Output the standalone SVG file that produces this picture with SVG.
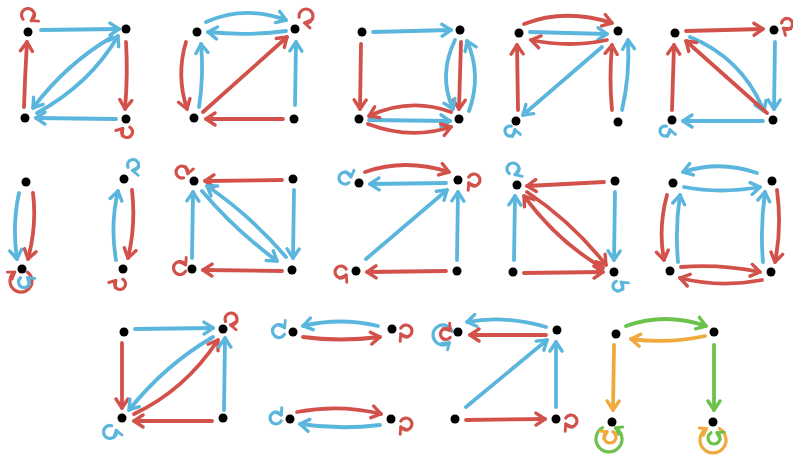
<svg xmlns="http://www.w3.org/2000/svg" width="793" height="457" viewBox="0 0 793 457">
<style>
.e{fill:none;stroke-width:3.8;stroke-linecap:round;stroke-linejoin:round}
.l{fill:none;stroke-width:3.2;stroke-linecap:round}
.r{stroke:#d2524b}.b{stroke:#5bb6dd}.g{stroke:#6cc24a}.o{stroke:#f0a93c}
.r.e{marker-end:url(#mr)}.b.e{marker-end:url(#mb)}.g.e{marker-end:url(#mg)}.o.e{marker-end:url(#mo)}
.r.l{marker-end:url(#sr)}.b.l{marker-end:url(#sb)}.g.l{marker-end:url(#sg)}.o.l{marker-end:url(#so)}
circle{fill:#000}
</style>
<defs>
<marker id="mr" viewBox="-11 -8 13 16" refX="0" refY="0" markerWidth="13" markerHeight="16" markerUnits="userSpaceOnUse" orient="auto"><path d="M-9,-6 L0,0 L-9,6" fill="none" stroke="#d2524b" stroke-width="3.4" stroke-linecap="round" stroke-linejoin="round"/></marker>
<marker id="mb" viewBox="-11 -8 13 16" refX="0" refY="0" markerWidth="13" markerHeight="16" markerUnits="userSpaceOnUse" orient="auto"><path d="M-9,-6 L0,0 L-9,6" fill="none" stroke="#5bb6dd" stroke-width="3.4" stroke-linecap="round" stroke-linejoin="round"/></marker>
<marker id="mg" viewBox="-11 -8 13 16" refX="0" refY="0" markerWidth="13" markerHeight="16" markerUnits="userSpaceOnUse" orient="auto"><path d="M-9,-6 L0,0 L-9,6" fill="none" stroke="#6cc24a" stroke-width="3.4" stroke-linecap="round" stroke-linejoin="round"/></marker>
<marker id="mo" viewBox="-11 -8 13 16" refX="0" refY="0" markerWidth="13" markerHeight="16" markerUnits="userSpaceOnUse" orient="auto"><path d="M-9,-6 L0,0 L-9,6" fill="none" stroke="#f0a93c" stroke-width="3.4" stroke-linecap="round" stroke-linejoin="round"/></marker>
<marker id="sr" viewBox="-8 -6 10 12" refX="0" refY="0" markerWidth="10" markerHeight="12" markerUnits="userSpaceOnUse" orient="auto"><path d="M-6,-4.2 L0,0 L-6,4.2" fill="none" stroke="#d2524b" stroke-width="2.9" stroke-linecap="round" stroke-linejoin="round"/></marker>
<marker id="sb" viewBox="-8 -6 10 12" refX="0" refY="0" markerWidth="10" markerHeight="12" markerUnits="userSpaceOnUse" orient="auto"><path d="M-6,-4.2 L0,0 L-6,4.2" fill="none" stroke="#5bb6dd" stroke-width="2.9" stroke-linecap="round" stroke-linejoin="round"/></marker>
<marker id="sg" viewBox="-8 -6 10 12" refX="0" refY="0" markerWidth="10" markerHeight="12" markerUnits="userSpaceOnUse" orient="auto"><path d="M-6,-4.2 L0,0 L-6,4.2" fill="none" stroke="#6cc24a" stroke-width="2.9" stroke-linecap="round" stroke-linejoin="round"/></marker>
<marker id="so" viewBox="-8 -6 10 12" refX="0" refY="0" markerWidth="10" markerHeight="12" markerUnits="userSpaceOnUse" orient="auto"><path d="M-6,-4.2 L0,0 L-6,4.2" fill="none" stroke="#f0a93c" stroke-width="2.9" stroke-linecap="round" stroke-linejoin="round"/></marker>
</defs>
<rect width="793" height="457" fill="#fff"/>
<g id="connectors">
<!-- G1 -->
<path class="e b" d="M41,30 L119,29"/>
<path class="e b" d="M112,37 Q66,64 33,108"/>
<path class="e b" d="M37,113 Q90,84 118,36"/>
<path class="e r" d="M126,42 Q128,75 125,109"/>
<path class="e b" d="M116,119 L36,118"/>
<path class="e r" d="M24,107 Q25,75 27,42"/>
<path class="l r" d="M23,19.2 A6.5,6.5 0 1 1 31.3,20.6"/>
<path class="l r" d="M129.8,127.2 A5.5,5.5 0 1 1 122.8,128.5"/>
<!-- G2 -->
<path class="e b" d="M206,22 Q245,5 286,20"/>
<path class="e b" d="M286,31 Q248,36 208,32"/>
<path class="e r" d="M186,42 Q176,75 187,109"/>
<path class="e b" d="M199,107 Q204,75 201,44"/>
<path class="e r" d="M203,112 L287,37"/>
<path class="e r" d="M283,119 L206,119"/>
<path class="e b" d="M295,105 L296,42"/>
<path class="l r" d="M299.1,17.2 A7,7 0 1 1 304.8,22.9"/>
<!-- G3 -->
<path class="e b" d="M373,32 L451,30"/>
<path class="e r" d="M361,44 L360,109"/>
<path class="e r" d="M461,42 L459,109"/>
<path class="e b" d="M455,40 Q438,75 453,109"/>
<path class="e b" d="M469,111 Q482,75 467,41"/>
<path class="e b" d="M369,120 L450,121"/>
<path class="e r" d="M451,112 Q410,97 369,116"/>
<path class="e r" d="M368,124 Q410,140 451,127"/>
<!-- G4 -->
<path class="e r" d="M524,24 Q565,8 612,23"/>
<path class="e b" d="M530,32 L607,34"/>
<path class="e r" d="M607,40 Q570,48 531,40"/>
<path class="e b" d="M602,47 L523,115"/>
<path class="e r" d="M518,110 L517,45"/>
<path class="e r" d="M612,110 Q609,78 612,45"/>
<path class="e b" d="M622,110 Q630,75 628,40"/>
<path class="l b" d="M511.3,126.2 A5,5 0 1 0 514.8,129.7"/>
<!-- G5 -->
<path class="e r" d="M686,31 L763,29"/>
<path class="e b" d="M775,42 L774,109"/>
<path class="e b" d="M690,37 Q742,58 764,111"/>
<path class="e r" d="M767,113 L686,41"/>
<path class="e b" d="M763,121 L683,121"/>
<path class="e r" d="M672,110 L674,45"/>
<path class="l r" d="M781.6,23 A5.5,5.5 0 1 1 783.5,28.2"/>
<path class="l b" d="M666.3,126.2 A5,5 0 1 0 669.8,129.7"/>
<!-- G6 -->
<path class="e b" d="M19,193 Q12,225 17,259"/>
<path class="e r" d="M33,193 Q37,225 28,259"/>
<path class="l r" d="M27.3,272.1 A11,11 0 1 1 14.7,272.1"/>
<path class="l b" d="M20.5,277.8 A5.5,5.5 0 1 0 27.5,277.8"/>
<!-- G7 -->
<path class="e b" d="M116,260 Q110,225 118,191"/>
<path class="e r" d="M132,190 Q136,225 128,258"/>
<path class="l b" d="M128,167.3 A5.5,5.5 0 1 1 132.5,170.5"/>
<path class="l r" d="M122.8,279.2 A5.5,5.5 0 1 1 115.8,280.5"/>
<!-- G8 -->
<path class="e r" d="M282,180 L205,181"/>
<path class="e b" d="M294,190 L293,258"/>
<path class="e b" d="M202,191 Q235,230 277,261"/>
<path class="e b" d="M286,257 Q250,215 207,186"/>
<path class="e b" d="M192,258 L193,192"/>
<path class="e r" d="M282,271 L203,270"/>
<path class="l r" d="M183.6,177.8 A6,6 0 1 1 187.8,173.6"/>
<path class="l r" d="M185.6,271.3 A6.5,6.5 0 1 1 185.6,264.8"/>
<!-- G9 -->
<path class="e r" d="M365,172 Q405,158 449,172"/>
<path class="e b" d="M446,183 L370,184"/>
<path class="e b" d="M366,259 L447,190"/>
<path class="e b" d="M457,260 L458,192"/>
<path class="e r" d="M446,271 L367,272"/>
<path class="l b" d="M348.9,182.6 A6,6 0 1 1 350.9,177"/>
<path class="l r" d="M468.8,177 A6,6 0 1 1 468.8,183"/>
<path class="l r" d="M346.2,269 A6,6 0 1 0 346.2,275"/>
<!-- G10 -->
<path class="e r" d="M604,182 L527,186"/>
<path class="e b" d="M615,192 L614,260"/>
<path class="e r" d="M527,192 Q572,222 606,265"/>
<path class="e r" d="M603,268 Q558,242 524,196"/>
<path class="e b" d="M514,260 L515,196"/>
<path class="e r" d="M524,273 L603,272"/>
<path class="l b" d="M509.1,173.6 A6,6 0 1 1 515.1,174.6"/>
<path class="l b" d="M616.3,281.3 A5,5 0 1 0 621.2,282.2"/>
<!-- G11 -->
<path class="e b" d="M757,173 Q720,160 683,172"/>
<path class="e b" d="M684,187 Q720,194 760,187"/>
<path class="e r" d="M667,195 Q658,228 664,260"/>
<path class="e b" d="M678,262 Q675,228 680,195"/>
<path class="e r" d="M777,190 Q782,228 775,262"/>
<path class="e b" d="M763,262 Q760,228 765,192"/>
<path class="e r" d="M681,267 Q720,264 760,272"/>
<path class="e r" d="M762,280 Q720,288 680,278"/>
<!-- G12 -->
<path class="e b" d="M135,329 L213,328"/>
<path class="e r" d="M122,343 L122,408"/>
<path class="e b" d="M213,337 Q165,365 129,410"/>
<path class="e r" d="M134,414 Q185,390 218,340"/>
<path class="e b" d="M224,410 L225,338"/>
<path class="e r" d="M212,421 L134,421"/>
<path class="l r" d="M225.6,321.5 A6,6 0 1 1 230.5,325"/>
<path class="l b" d="M111.7,425.7 A6.5,6.5 0 1 0 116.3,430.3"/>
<!-- G13 -->
<path class="e b" d="M378,326 Q340,317 303,326"/>
<path class="e r" d="M303,337 Q340,342 380,337"/>
<path class="e r" d="M297,412 Q340,404 381,414"/>
<path class="e b" d="M380,425 Q340,430 300,424"/>
<path class="l b" d="M284.6,334.3 A6.5,6.5 0 1 1 284.6,327.8"/>
<path class="l r" d="M400.8,328 A6,6 0 1 1 400.8,334"/>
<path class="l b" d="M281.2,421 A6,6 0 1 1 281.2,415"/>
<path class="l r" d="M400.8,421 A6,6 0 1 1 400.8,427"/>
<!-- G14 -->
<path class="e b" d="M546,327 Q505,315 467,322"/>
<path class="e r" d="M546,335 L470,335"/>
<path class="e b" d="M466,407 L547,340"/>
<path class="e b" d="M556,407 L556,342"/>
<path class="e r" d="M466,420 L545,419"/>
<path class="l b" d="M452.4,331.6 A10,10 0 1 0 449.4,342.7"/>
<path class="l r" d="M450.2,337.5 A5.5,5.5 0 1 1 450.2,330.5"/>
<path class="l r" d="M565.8,418 A6,6 0 1 1 565.8,424"/>
<!-- G15 -->
<path class="e g" d="M626,326 Q665,312 706,326"/>
<path class="e o" d="M705,336 Q668,344 631,339"/>
<path class="e o" d="M614,345 L613,410"/>
<path class="e g" d="M714,345 L714,410"/>
<path class="l g" d="M602.5,427.7 A13,13 0 1 0 615.5,427.7"/>
<path class="l o" d="M613,431.8 A6,6 0 1 1 607,431.8"/>
<path class="l o" d="M719.5,428.7 A13,13 0 1 1 706.5,428.7"/>
<path class="l g" d="M711,432.8 A6,6 0 1 0 717,432.8"/>
</g>
<g id="g1-tl"><circle cx="28" cy="32" r="4.5"/></g>
<g id="g1-tr"><circle cx="126" cy="29" r="4.5"/></g>
<g id="g1-bl"><circle cx="25" cy="118" r="4.5"/></g>
<g id="g1-br"><circle cx="126" cy="119" r="4.5"/></g>
<g id="g2-tl"><circle cx="197" cy="32" r="4.5"/></g>
<g id="g2-tr"><circle cx="295" cy="29" r="4.5"/></g>
<g id="g2-bl"><circle cx="194" cy="118" r="4.5"/></g>
<g id="g2-br"><circle cx="294" cy="119" r="4.5"/></g>
<g id="g3-tl"><circle cx="362" cy="32" r="4.5"/></g>
<g id="g3-tr"><circle cx="460" cy="30" r="4.5"/></g>
<g id="g3-bl"><circle cx="359" cy="119" r="4.5"/></g>
<g id="g3-br"><circle cx="459" cy="119" r="4.5"/></g>
<g id="g4-tl"><circle cx="519" cy="33" r="4.5"/></g>
<g id="g4-tr"><circle cx="618" cy="31" r="4.5"/></g>
<g id="g4-bl"><circle cx="516" cy="121" r="4.5"/></g>
<g id="g4-br"><circle cx="618" cy="122" r="4.5"/></g>
<g id="g5-tl"><circle cx="675" cy="33" r="4.5"/></g>
<g id="g5-tr"><circle cx="774" cy="30" r="4.5"/></g>
<g id="g5-bl"><circle cx="672" cy="120" r="4.5"/></g>
<g id="g5-br"><circle cx="773" cy="120" r="4.5"/></g>
<g id="g6-t"><circle cx="26" cy="182" r="4.5"/></g>
<g id="g6-b"><circle cx="22" cy="269" r="4.5"/></g>
<g id="g7-t"><circle cx="124" cy="179" r="4.5"/></g>
<g id="g7-b"><circle cx="123" cy="269" r="4.5"/></g>
<g id="g8-tl"><circle cx="194" cy="181" r="4.5"/></g>
<g id="g8-tr"><circle cx="293" cy="179" r="4.5"/></g>
<g id="g8-bl"><circle cx="192" cy="269" r="4.5"/></g>
<g id="g8-br"><circle cx="292" cy="270" r="4.5"/></g>
<g id="g9-tl"><circle cx="359" cy="183" r="4.5"/></g>
<g id="g9-tr"><circle cx="458" cy="180" r="4.5"/></g>
<g id="g9-bl"><circle cx="356" cy="271" r="4.5"/></g>
<g id="g9-br"><circle cx="457" cy="271" r="4.5"/></g>
<g id="g10-tl"><circle cx="517" cy="185" r="4.5"/></g>
<g id="g10-tr"><circle cx="615" cy="181" r="4.5"/></g>
<g id="g10-bl"><circle cx="513" cy="272" r="4.5"/></g>
<g id="g10-br"><circle cx="614" cy="272" r="4.5"/></g>
<g id="g11-tl"><circle cx="673" cy="183" r="4.5"/></g>
<g id="g11-tr"><circle cx="772" cy="181" r="4.5"/></g>
<g id="g11-bl"><circle cx="670" cy="271" r="4.5"/></g>
<g id="g11-br"><circle cx="771" cy="272" r="4.5"/></g>
<g id="g12-tl"><circle cx="124" cy="332" r="4.5"/></g>
<g id="g12-tr"><circle cx="223" cy="329" r="4.5"/></g>
<g id="g12-bl"><circle cx="122" cy="418" r="4.5"/></g>
<g id="g12-br"><circle cx="223" cy="418" r="4.5"/></g>
<g id="g13-l1"><circle cx="293" cy="332" r="4.5"/></g>
<g id="g13-r1"><circle cx="392" cy="329" r="4.5"/></g>
<g id="g13-l2"><circle cx="290" cy="419" r="4.5"/></g>
<g id="g13-r2"><circle cx="391" cy="419" r="4.5"/></g>
<g id="g14-tl"><circle cx="458" cy="332" r="4.5"/></g>
<g id="g14-tr"><circle cx="557" cy="330" r="4.5"/></g>
<g id="g14-bl"><circle cx="455" cy="419" r="4.5"/></g>
<g id="g14-br"><circle cx="556" cy="419" r="4.5"/></g>
<g id="g15-tl"><circle cx="616" cy="334" r="4.5"/></g>
<g id="g15-tr"><circle cx="714" cy="332" r="4.5"/></g>
<g id="g15-bl"><circle cx="612" cy="422" r="4.5"/></g>
<g id="g15-br"><circle cx="713" cy="422" r="4.5"/></g>
</svg>
